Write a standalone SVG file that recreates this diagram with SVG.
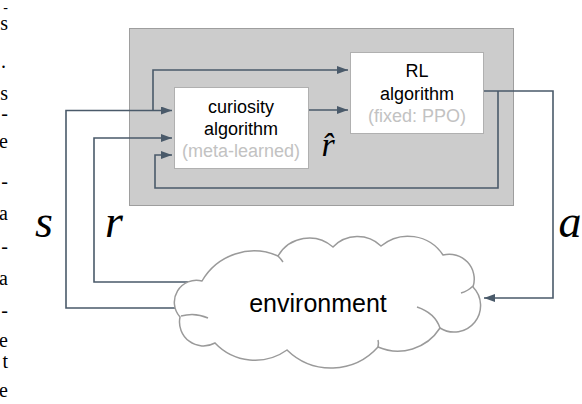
<svg xmlns="http://www.w3.org/2000/svg" width="582" height="404" viewBox="0 0 582 404">
<style>
.bg{fill:#ffffff}
.panel{fill:#cccccc;stroke:#9e9e9e;stroke-width:1}
.box{fill:#ffffff;stroke:#b0b0b0;stroke-width:1}
.lbl{font-family:"Liberation Sans",Arial,sans-serif;font-size:18px;fill:#000000;text-anchor:middle}
.sub{fill:#c2c2c2}
.env{font-family:"Liberation Sans",Arial,sans-serif;font-size:25px;fill:#000000;text-anchor:middle}
.math{font-family:"Liberation Serif","Times New Roman",serif;font-style:italic;font-size:46px;fill:#000000;text-anchor:middle}
.frag{font-family:"Liberation Serif","Times New Roman",serif;font-size:20px;fill:#000000;text-anchor:end}
.con{fill:none;stroke:#4a5a6a;stroke-width:1.6}
.cloud{fill:#ffffff;stroke:#9a9a9a;stroke-width:1.5}
.curl{fill:none;stroke:#9a9a9a;stroke-width:1.5}
</style>
<defs>
<marker id="arr" markerWidth="11" markerHeight="8" refX="11" refY="4" orient="auto" markerUnits="userSpaceOnUse">
<path d="M0,0 L11,4 L0,8 Z" fill="#4a5a6a"/>
</marker>
</defs>
<rect class="bg" x="0" y="0" width="582" height="404"/>
<g id="text-fragments">
<text class="frag" x="8" y="12" style="font-size:14px">-</text>
<text class="frag" x="8" y="30">s</text>
<text class="frag" x="6" y="68">.</text>
<text class="frag" x="8" y="100">s</text>
<text class="frag" x="8" y="120">-</text>
<text class="frag" x="8" y="148">e</text>
<text class="frag" x="8" y="188">-</text>
<text class="frag" x="8" y="220">a</text>
<text class="frag" x="8" y="253">-</text>
<text class="frag" x="8" y="285">a</text>
<text class="frag" x="8" y="317">-</text>
<text class="frag" x="8" y="347">e</text>
<text class="frag" x="8" y="368">t</text>
<text class="frag" x="8" y="397">e</text>
</g>
<g id="agent">
<rect class="panel" x="129.5" y="28.5" width="384" height="177"/>
</g>
<g id="connectors">
<polyline class="con" points="180,308 66,308 66,110.5 172,110.5" marker-end="url(#arr)"/>
<polyline class="con" points="153,110.5 153,70 348,70" marker-end="url(#arr)"/>
<polyline class="con" points="196,282 94,282 94,138 172,138" marker-end="url(#arr)"/>
<polyline class="con" points="484,91 553,91 553,298 484,298" marker-end="url(#arr)"/>
<polyline class="con" points="498,91 498,188 155,188 155,155 172,155" marker-end="url(#arr)"/>
<line class="con" x1="309" y1="110" x2="348" y2="110" marker-end="url(#arr)"/>
</g>
<g id="rl-algorithm">
<rect class="box" x="350.5" y="52.5" width="133" height="81"/>
<text class="lbl" x="417" y="77">RL</text>
<text class="lbl" x="417" y="100">algorithm</text>
<text class="lbl sub" x="417" y="122">(fixed: PPO)</text>
</g>
<g id="curiosity-algorithm">
<rect class="box" x="174.5" y="87.5" width="134" height="81"/>
<text class="lbl" x="241" y="113">curiosity</text>
<text class="lbl" x="241" y="135">algorithm</text>
<text class="lbl sub" x="241" y="157">(meta-learned)</text>
</g>
<g id="rhat-label">
<text class="math" x="328" y="156" style="font-size:34px">r̂</text>
</g>
<g id="environment">
<path class="cloud" d="M202,281 A60,60 0 0,1 278,256 A36,36 0 0,1 333,247 A34,34 0 0,1 381,246 A42,42 0 0,1 443,255 A25,25 0 0,1 473,287 A26.5,26.5 0 0,1 440,328 A50,50 0 0,1 378,347 A63,63 0 0,1 287,350 A55,55 0 0,1 215,343 A24,24 0 0,1 180,317 A22,22 0 0,1 202,281 Z"/>
<path class="curl" d="M181,316 Q195,312 208,318"/>
<path class="curl" d="M473,286 Q468,291 461,293"/>
<path class="curl" d="M417,307 Q435,313 440,328"/>
<path class="curl" d="M378,347 Q379,343 378,340"/>
<path class="curl" d="M278,256 Q281,259 283,262"/>
<text class="env" x="318" y="312">environment</text>
</g>
<g id="labels">
<text class="math" x="44" y="237">s</text>
<text class="math" x="114" y="237">r</text>
<text class="math" x="570" y="237">a</text>
</g>
</svg>
